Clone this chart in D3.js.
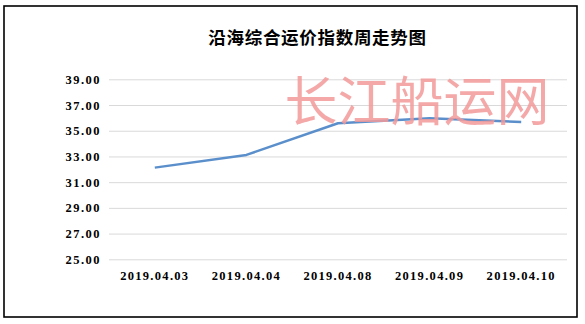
<!DOCTYPE html>
<html>
<head>
<meta charset="utf-8">
<script src="https://cdn.jsdelivr.net/npm/d3@7"></script>
<style>
  body { margin: 0; background: #fff; }
</style>
</head>
<body>
<div id="chart"></div>
<script>
// data
const dates = ["2019.04.03", "2019.04.04", "2019.04.08", "2019.04.09", "2019.04.10"];
const indexValues = [32.13, 33.12, 35.58, 35.97, 35.68];
const yTicks = [25, 27, 29, 31, 33, 35, 37, 39];

const W = 585,
  H = 324;
const margin = { top: 79.3, right: 18, bottom: 64.7, left: 109 };
const width = W - margin.left - margin.right,
  height = H - margin.top - margin.bottom;

const svg = d3
  .select("#chart")
  .append("svg")
  .attr("width", W)
  .attr("height", H);

// outer frame
svg
  .append("rect")
  .attr("x", 4)
  .attr("y", 6)
  .attr("width", 573)
  .attr("height", 311)
  .attr("fill", "#fff")
  .attr("stroke", "#000")
  .attr("stroke-width", 1.6);

const g = svg
  .append("g")
  .attr("transform", `translate(${margin.left},${margin.top})`);

const x = d3.scaleBand().domain(dates).range([0, width]);
const y = d3.scaleLinear().domain([25, 39]).range([height, 0]);

// gridlines
g.append("g")
  .call(d3.axisLeft(y).tickValues(yTicks).tickSize(-width).tickFormat(""))
  .call((a) => a.select(".domain").remove())
  .selectAll("line")
  .attr("stroke", "#d9d9d9")
  .attr("stroke-width", 1);

// y labels
g.append("g")
  .call(d3.axisLeft(y).tickValues(yTicks).tickSize(0).tickPadding(8).tickFormat(d3.format(".2f")))
  .call((a) => a.select(".domain").remove())
  .selectAll("text")
  .attr("font-family", "'Liberation Serif', serif")
  .attr("font-weight", "bold")
  .attr("font-size", 12.5)
  .attr("letter-spacing", "1.5px")
  .attr("fill", "#000");

// x labels
g.append("g")
  .attr("transform", `translate(0,${height})`)
  .call(d3.axisBottom(x).tickSize(0).tickPadding(12))
  .call((a) => a.select(".domain").remove())
  .selectAll("text")
  .attr("font-family", "'Liberation Serif', serif")
  .attr("font-weight", "bold")
  .attr("font-size", 12.5)
  .attr("letter-spacing", "1.3px")
  .attr("fill", "#000");

// the line
const line = d3
  .line()
  .x((d, i) => x(dates[i]) + x.bandwidth() / 2)
  .y((d) => y(d));

g.append("path")
  .datum(indexValues)
  .attr("d", line)
  .attr("fill", "none")
  .attr("stroke", "#5b8fcb")
  .attr("stroke-width", 2.5)
  .attr("stroke-linejoin", "round");

// title
svg
  .append("text")
  .attr("x", 317.5)
  .attr("y", 36.5)
  .attr("text-anchor", "middle")
  .attr("dominant-baseline", "central")
  .attr("font-family", "'Noto Sans CJK SC', sans-serif")
  .attr("font-weight", "bold")
  .attr("font-size", 17.5)
  .attr("letter-spacing", "0.7px")
  .text("沿海综合运价指数周走势图");

// watermark
const defs = svg.append("defs");
defs
  .append("filter")
  .attr("id", "soft")
  .append("feGaussianBlur")
  .attr("stdDeviation", 0.6);

svg
  .append("text")
  .attr("x", 417)
  .attr("y", 98)
  .attr("text-anchor", "middle")
  .attr("dominant-baseline", "central")
  .attr("font-family", "'Noto Sans CJK SC', sans-serif")
  .attr("font-weight", 400)
  .attr("font-size", 53)
  .attr("fill", "#f39a9a")
  .attr("opacity", 0.85)
  .attr("filter", "url(#soft)")
  .text("长江船运网");
</script>
</body>
</html>
